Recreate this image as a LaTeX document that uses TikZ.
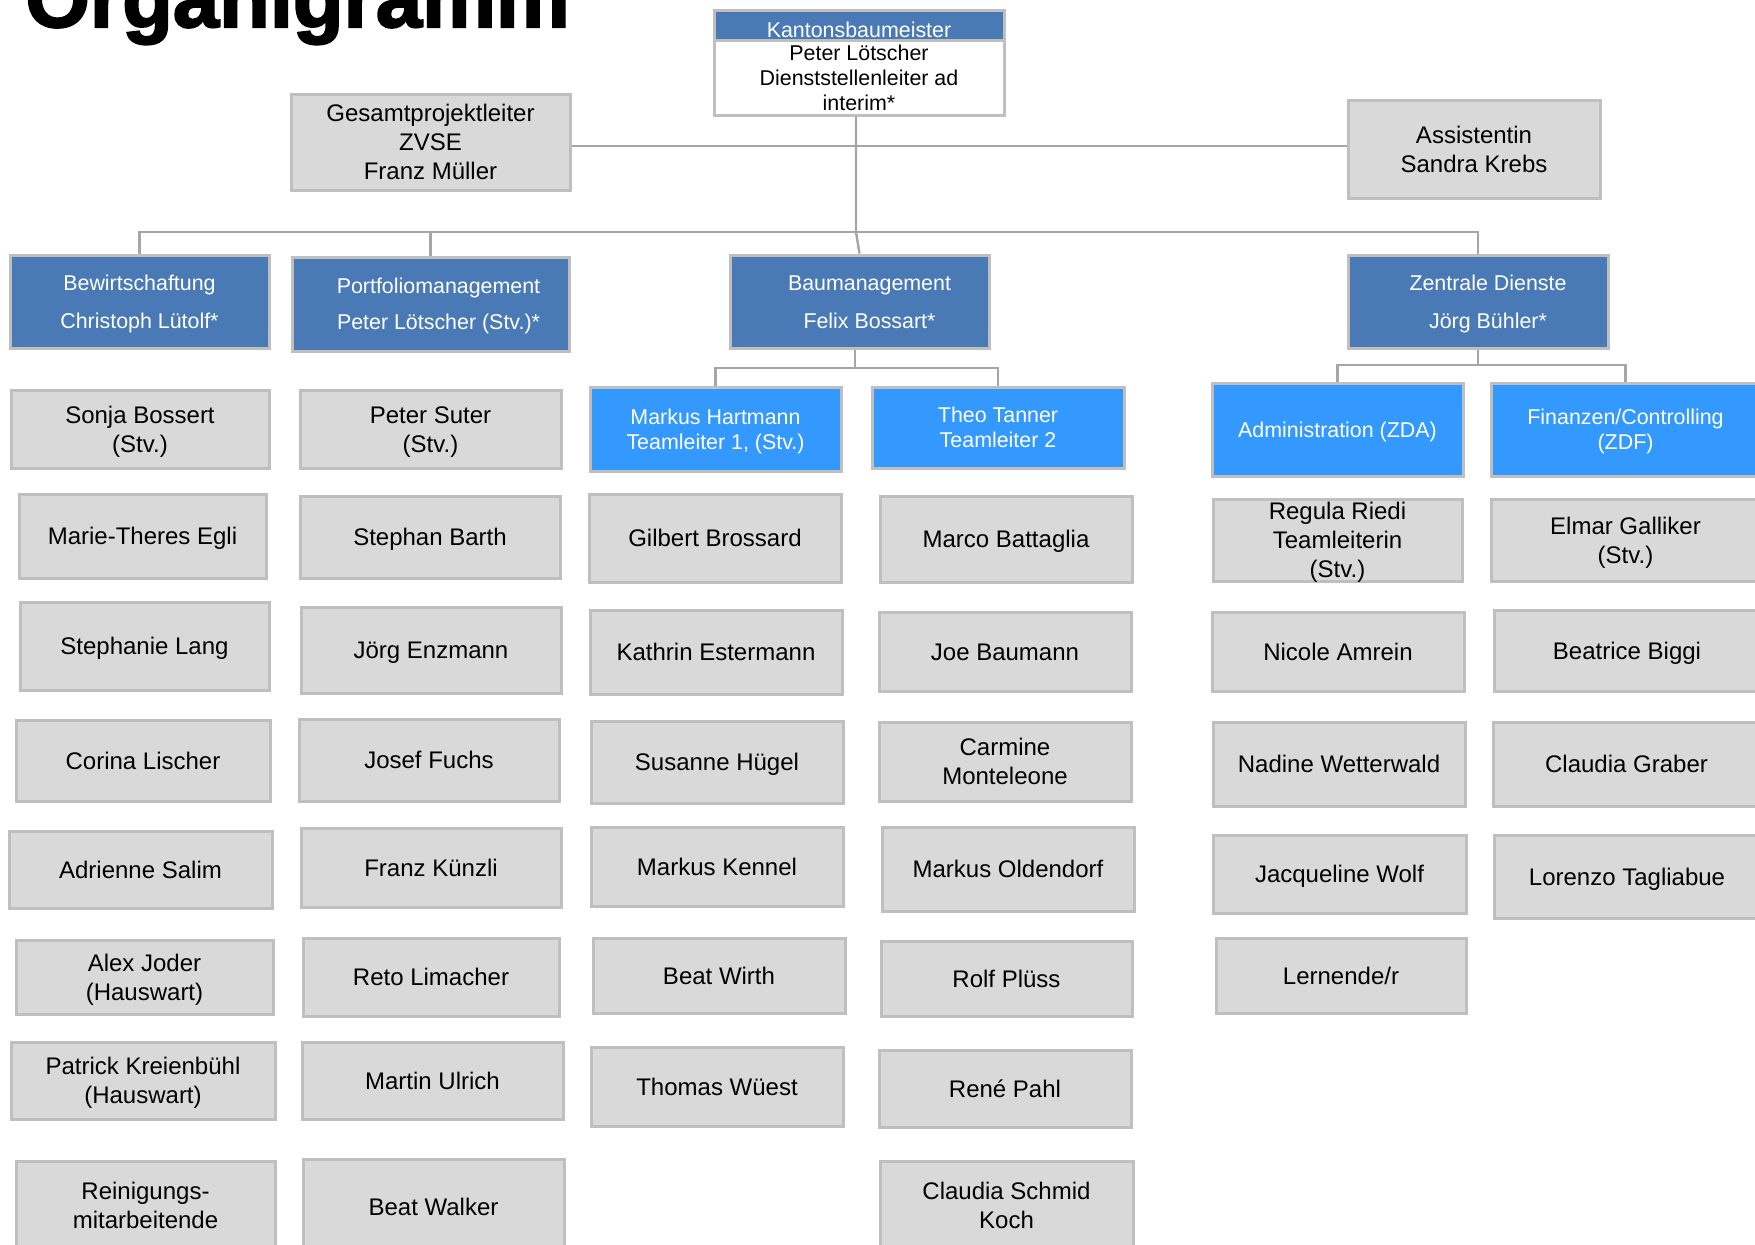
\documentclass[tikz,border=0pt]{standalone}
\usepackage{fontspec}
\setmainfont{Liberation Sans}
\newfontfamily\titlefont[BoldFont={Liberation Sans Bold}, BoldFeatures={FakeBold=2.5}]{Liberation Sans}
\usepackage{tikz}
\definecolor{boxgrey}{HTML}{D9D9D9}
\definecolor{boxline}{HTML}{BFBFBF}
\definecolor{linkgrey}{HTML}{A6A6A6}
\definecolor{headblue}{HTML}{4A7AB5}
\definecolor{teamblue}{HTML}{3399FF}
\tikzset{
  orgbox/.style = {rectangle, align=center, inner sep=1pt, line width=1.5pt, draw=boxline},
  greybox/.style = {orgbox, fill=boxgrey, font=\fontsize{12}{14.5}\selectfont, text height=11pt, text depth=2.4pt},
  grey2/.style = {greybox, text height=25.5pt},
  grey3/.style = {greybox, text height=38pt, text depth=0.4pt, inner sep=0pt},
  headbox/.style = {orgbox, fill=headblue, text=white, font=\fontsize{10.7}{19}\selectfont, text height=28.8pt, text depth=2.1pt},
  teambox/.style = {orgbox, fill=teamblue, text=white, font=\fontsize{10.7}{12.5}\selectfont, text height=9.8pt, text depth=2.1pt},
  team2/.style = {teambox, text height=22.3pt},
  chiefbody/.style = {orgbox, fill=white, font=\fontsize{10.7}{12.5}\selectfont},
  boxsize/.style 2 args = {minimum width=#1*0.5pt, minimum height=#2*0.5pt},
  link/.style = {draw=linkgrey, line width=1.2pt},
}

\begin{document}
\begin{tikzpicture}[x=0.5pt, y=-0.5pt]
\useasboundingbox (0,0) rectangle (1755,1244);
\clip (0,0) rectangle (1755,1244);

\node[anchor=base west, inner sep=0pt, font=\fontsize{41.5}{41.5}\titlefont\bfseries] (title) at (25,27) {Organigramm};

% top level
\node[headbox, boxsize={290}{30}, font=\fontsize{10.7}{12.5}\selectfont, text height=12.5pt, text depth=0pt] (kbm) at (859,25) {Kantonsbaumeister};
\node[chiefbody, boxsize={290}{75}] (kbmbody) at (859,77.5) {Peter Lötscher\\Dienststellenleiter ad\\interim*};
\node[greybox, boxsize={279}{96}, text height=40pt] (gesamt) at (430.5,142) {Gesamtprojektleiter\\ZVSE\\Franz Müller};
\node[grey2, boxsize={252}{98}] (assist) at (1474,149) {Assistentin\\Sandra Krebs};

% departments
\node[headbox, boxsize={259}{93}] (bew) at (139.5,301.5) {Bewirtschaftung\\Christoph Lütolf*};
\node[headbox, boxsize={277}{94}, font=\fontsize{10.7}{18}\selectfont, text height=27.8pt] (port) at (430.5,304) {\hspace*{8pt}Portfoliomanagement\\\hspace*{8pt}Peter Lötscher (Stv.)*};
\node[headbox, boxsize={259}{93}] (baum) at (859.5,301.5) {\hspace*{10pt}Baumanagement\\\hspace*{10pt}Felix Bossart*};
\node[headbox, boxsize={260}{93}] (zen) at (1478,301.5) {\hspace*{10pt}Zentrale Dienste\\\hspace*{10pt}Jörg Bühler*};

% teams
\node[team2, boxsize={251}{84}] (hart) at (715.5,429) {Markus Hartmann\\Teamleiter 1, (Stv.)};
\node[team2, boxsize={252}{81}] (tanner) at (998,427.5) {Theo Tanner\\Teamleiter 2};
\node[teambox, boxsize={251}{93}] (admin) at (1337.5,429.5) {Administration (ZDA)};
\node[team2, boxsize={269}{93}] (fin) at (1625.5,429.5) {Finanzen/Controlling\\(ZDF)};

% Bewirtschaftung
\node[grey2, boxsize={258}{78}] (sonja) at (140,429) {Sonja Bossert\\(Stv.)};
\node[greybox, boxsize={247}{84}] (marie) at (142.5,536) {Marie-Theres Egli};
\node[greybox, boxsize={249}{88}] (stephanie) at (144.5,646) {Stephanie Lang};
\node[greybox, boxsize={254}{81}] (corina) at (143,760.5) {Corina Lischer};
\node[greybox, boxsize={263}{77}] (adrienne) at (140.5,869.5) {Adrienne Salim};
\node[grey2, boxsize={257}{74}] (alex) at (144.5,977) {Alex Joder\\(Hauswart)};
\node[grey2, boxsize={264}{77}] (patrick) at (143,1080.5) {Patrick Kreienbühl\\(Hauswart)};
\node[grey2, boxsize={259}{89}] (reinig) at (145.5,1205.5) {Reinigungs-\\mitarbeitende};

% Portfoliomanagement
\node[grey2, boxsize={261}{78}] (suter) at (430.5,429) {Peter Suter\\(Stv.)};
\node[greybox, boxsize={260}{82}] (barth) at (430,537) {Stephan Barth};
\node[greybox, boxsize={260}{86}] (enzmann) at (431,650) {Jörg Enzmann};
\node[greybox, boxsize={260}{82}] (fuchs) at (429,760) {Josef Fuchs};
\node[greybox, boxsize={260}{79}] (kuenzli) at (431,867.5) {Franz Künzli};
\node[greybox, boxsize={256}{78}] (limacher) at (431,977) {Reto Limacher};
\node[greybox, boxsize={261}{77}] (ulrich) at (432.5,1080.5) {Martin Ulrich};
\node[greybox, boxsize={261}{96}] (walker) at (433.5,1207) {Beat Walker};

% Team 1
\node[greybox, boxsize={252}{88}] (brossard) at (715,538) {Gilbert Brossard};
\node[greybox, boxsize={252}{84}] (estermann) at (716,652) {Kathrin Estermann};
\node[greybox, boxsize={252}{82}] (huegel) at (717,762) {Susanne Hügel};
\node[greybox, boxsize={252}{79}] (kennel) at (717,866.5) {Markus Kennel};
\node[greybox, boxsize={252}{75}] (wirth) at (719,975.5) {Beat Wirth};
\node[greybox, boxsize={252}{79}] (wueest) at (717,1086.5) {Thomas Wüest};

% Team 2
\node[greybox, boxsize={252}{86}] (battaglia) at (1006,539) {Marco Battaglia};
\node[greybox, boxsize={252}{79}] (baumann) at (1005,651.5) {Joe Baumann};
\node[grey2, boxsize={252}{79}] (monteleone) at (1005,761.5) {Carmine\\Monteleone};
\node[greybox, boxsize={252}{84}] (oldendorf) at (1008,869) {Markus Oldendorf};
\node[greybox, boxsize={251}{75}] (pluess) at (1006.5,978.5) {Rolf Plüss};
\node[greybox, boxsize={252}{77}] (pahl) at (1005,1088.5) {René Pahl};
\node[grey2, boxsize={253}{89}] (schmid) at (1006.5,1205.5) {Claudia Schmid\\Koch};

% Administration
\node[grey3, boxsize={249}{82}] (riedi) at (1337.5,540) {Regula Riedi\\Teamleiterin\\(Stv.)};
\node[greybox, boxsize={252}{79}] (amrein) at (1338,651.5) {Nicole Amrein};
\node[greybox, boxsize={252}{84}] (wetterwald) at (1339,764) {Nadine Wetterwald};
\node[greybox, boxsize={253}{78}] (wolf) at (1339.5,874) {Jacqueline Wolf};
\node[greybox, boxsize={250}{75}] (lernende) at (1341,975.5) {Lernende/r};

% Finanzen/Controlling
\node[grey2, boxsize={269}{82}] (galliker) at (1625.5,540) {Elmar Galliker\\(Stv.)};
\node[greybox, boxsize={266}{81}] (biggi) at (1627,650.5) {Beatrice Biggi};
\node[greybox, boxsize={267}{84}] (graber) at (1626.5,764) {Claudia Graber};
\node[greybox, boxsize={266}{83}] (tagliabue) at (1627,876.5) {Lorenzo Tagliabue};

% connectors
\coordinate (bus) at (856,232);
\coordinate (asline) at (0,146);
\coordinate (bmbus) at (855,368);
\coordinate (zbus) at (1478,365);
\draw[link] (gesamt.east |- asline) -- (assist.west |- asline);
\draw[link] (bus |- kbmbody.south) -- (bus) -- (baum.north);
\draw[link] (bew.north) |- (bus);
\draw[link] (port.north) -- (port.north |- bus);
\draw[link] (bus) -| (zen.north);
\draw[link] (bmbus |- baum.south) -- (bmbus);
\draw[link] (hart.north) |- (bmbus) -| (tanner.north);
\draw[link] (zen.south) -- (zbus);
\draw[link] (admin.north) |- (zbus) -| (fin.north);
\end{tikzpicture}
\end{document}
